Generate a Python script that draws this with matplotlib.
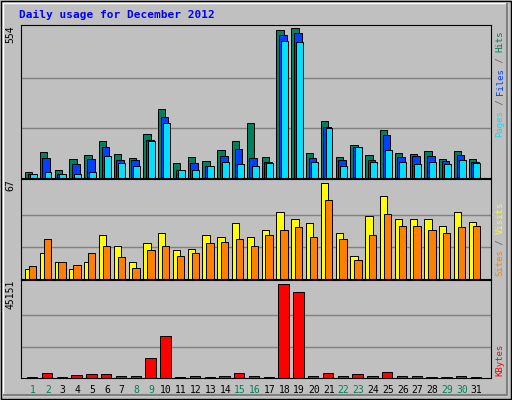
import matplotlib
matplotlib.use("Agg")
import matplotlib.pyplot as plt
from matplotlib.patches import Rectangle
import numpy as np

days = list(range(1, 32))
weekend = {1, 2, 8, 9, 15, 16, 22, 23, 29, 30}
hits = [24,95,28,69,84,137,88,74,163,253,54,76,61,103,137,204,76,546,554,91,212,76,122,84,178,91,88,99,69,99,69]
files = [13,73,16,50,69,114,65,65,140,227,31,54,43,80,107,73,58,528,535,73,189,65,114,65,159,76,80,80,61,84,58]
pages = [13,24,16,13,24,80,54,46,137,204,31,31,43,58,50,46,54,505,501,58,185,46,114,58,103,58,50,58,50,65,54]
visits = [7,18,12,7,12,31,23,12,25,32,20,21,31,29,39,29,34,47,42,39,67,32,16,44,58,42,42,42,37,47,40]
sites = [9,28,12,10,18,23,15,8,20,23,16,18,25,26,28,23,31,34,36,29,55,28,13,31,45,37,37,34,32,36,37]
kbytes = [500,2480,500,1500,2000,2000,1000,1000,9430,20340,500,1000,500,1000,2480,1000,500,45151,41180,1000,2480,1000,2000,1000,2980,1000,1000,500,500,1000,500]

W, H = 512, 400
fig = plt.figure(figsize=(W/100, H/100), dpi=100)
fig.patch.set_facecolor("#C0C0C0")
bg = fig.add_axes([0, 0, 1, 1]); bg.set_xlim(0, W); bg.set_ylim(H, 0); bg.axis("off")
bg.add_patch(Rectangle((0.5, 0.5), W-1.5, H-1.5, fill=False, ec="black", lw=1))
bg.add_patch(Rectangle((3, 3), W-8, H-8, fill=False, ec="white", lw=1))
bg.plot([4, W-5, W-5], [H-5, H-5, 4], color="#808080", lw=1.5)
bg.text(19, 15, "Daily usage for December 2012", color="#0000FF", fontsize=8,
        fontweight="bold", family="DejaVu Sans Mono", va="center")

mono = "DejaVu Sans Mono"
L, R = 21, 491

def panel(top, bottom):
    ax = fig.add_axes([L/W, 1-bottom/H, (R-L)/W, (bottom-top)/H])
    ax.set_facecolor("#C0C0C0")
    ax.set_xlim(0.19, 31.97)
    ax.set_xticks([]); ax.set_yticks([])
    for s in ax.spines.values():
        s.set_color("black")
    return ax

def grid(ax, m):
    for f in (1/3, 2/3):
        ax.axhline(m*f, color="#808080", lw=1, zorder=0)

x = np.array(days, dtype=float)
ek = dict(edgecolor="black", linewidth=0.7)

ax1 = panel(25, 178)
mx1 = max(hits); ax1.set_ylim(0, mx1*1.02); grid(ax1, mx1)
ax1.bar(x-0.54, hits, width=0.5, align="edge", color="#00805C", **ek)
ax1.bar(x-0.36, files, width=0.52, align="edge", color="#0040FF", **ek)
ax1.bar(x-0.22, pages, width=0.47, align="edge", color="#00E0FF", **ek)

ax2 = panel(179, 279)
mx2 = max(visits); ax2.set_ylim(0, mx2*1.04); grid(ax2, mx2)
ax2.bar(x-0.54, visits, width=0.5, align="edge", color="#FFFF00", **ek)
ax2.bar(x-0.28, sites, width=0.5, align="edge", color="#FF8000", **ek)

ax3 = panel(280, 378)
mx3 = max(kbytes); ax3.set_ylim(0, mx3*1.04); grid(ax3, mx3)
ax3.bar(x-0.05, kbytes, width=0.7, color="#FF0000", **ek)

for ax, lab in ((ax1, str(max(hits))), (ax2, str(max(visits))), (ax3, str(max(kbytes)))):
    ax.text(-0.012, 1.0, lab, transform=ax.transAxes, rotation=90, ha="right", va="top",
            fontsize=7, family=mono)

for d in days:
    ax3.text(d, -0.12, str(d), transform=ax3.get_xaxis_transform(), ha="center", va="center",
             fontsize=7, family=mono, color="#00805C" if d in weekend else "black")

def side(pieces, bottom_px):
    y = bottom_px
    cw = 5.3
    for txt, col in pieces:
        bg.text(500, y, txt, rotation=90, ha="center", va="bottom", fontsize=6.5,
                family=mono, color=col)
        y -= cw*len(txt)

side([("Pages", "#00E0FF"), (" / ", "#606060"), ("Files", "#0040FF"), (" / ", "#606060"), ("Hits", "#00805C")], 137)
side([("Sites", "#FF8000"), (" / ", "#606060"), ("Visits", "#FFFF00")], 276)
side([("KBytes", "#FF0000")], 376)

fig.savefig("out.png", dpi=100, facecolor=fig.get_facecolor())
